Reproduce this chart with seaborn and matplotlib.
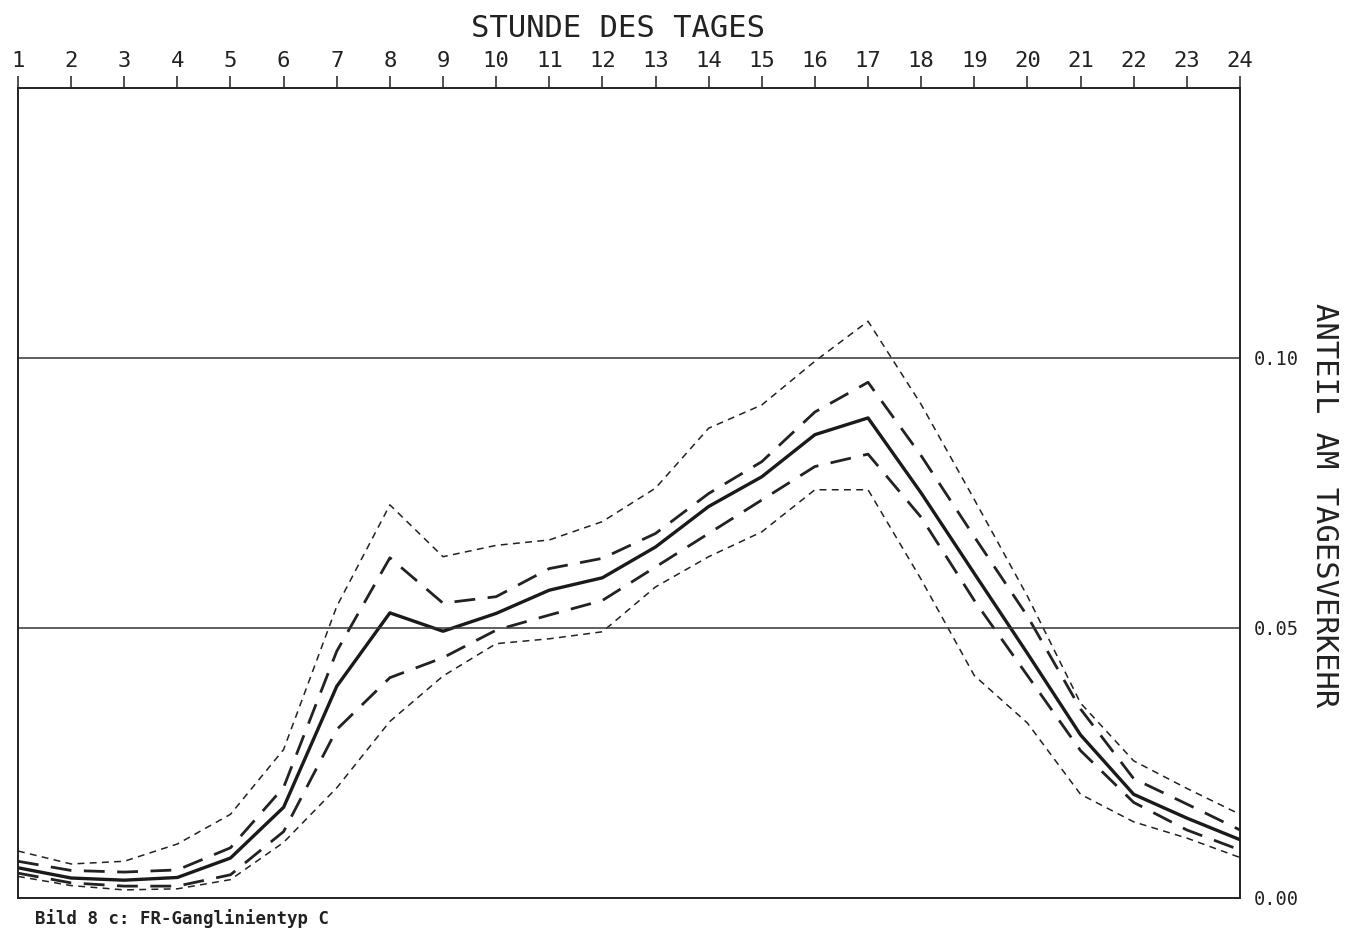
import matplotlib
matplotlib.use('Agg')
import matplotlib.pyplot as plt
import pandas as pd
import seaborn as sns

# hour of day 1..24
hours = list(range(1, 25))

# mean profile (solid)
mean_line = [0.0056, 0.0037, 0.0033, 0.0038, 0.0074, 0.0168, 0.0392, 0.0528,
             0.0494, 0.0527, 0.0570, 0.0593, 0.0650, 0.0725, 0.0780, 0.0858,
             0.0889, 0.0750, 0.0601, 0.0453, 0.0302, 0.0192, 0.0148, 0.0108]
# inner band (long dashes)
upper_inner = [0.0068, 0.0051, 0.0048, 0.0052, 0.0093, 0.0205, 0.0457, 0.0630,
               0.0546, 0.0558, 0.0610, 0.0629, 0.0675, 0.0749, 0.0808, 0.0900,
               0.0955, 0.0819, 0.0669, 0.0522, 0.0350, 0.0221, 0.0174, 0.0126]
lower_inner = [0.0046, 0.0028, 0.0022, 0.0022, 0.0043, 0.0123, 0.0312, 0.0408,
               0.0445, 0.0496, 0.0524, 0.0551, 0.0613, 0.0675, 0.0737, 0.0799,
               0.0822, 0.0705, 0.0551, 0.0412, 0.0273, 0.0177, 0.0126, 0.0089]
# outer band (short dashes)
upper_outer = [0.0087, 0.0063, 0.0068, 0.0100, 0.0155, 0.0275, 0.0540, 0.0728,
               0.0632, 0.0653, 0.0663, 0.0697, 0.0759, 0.0870, 0.0913, 0.0994,
               0.1068, 0.0914, 0.0738, 0.0559, 0.0361, 0.0254, 0.0203, 0.0155]
lower_outer = [0.0040, 0.0023, 0.0015, 0.0017, 0.0034, 0.0103, 0.0204, 0.0327,
               0.0411, 0.0471, 0.0480, 0.0493, 0.0576, 0.0632, 0.0678, 0.0756,
               0.0756, 0.0590, 0.0412, 0.0324, 0.0192, 0.0141, 0.0111, 0.0075]

y_ticks = [0.00, 0.05, 0.10]
y_ticklabels = ['0.00', '0.05', '0.10']

df = pd.DataFrame({'hour': hours, 'mean': mean_line,
                   'upper_inner': upper_inner, 'lower_inner': lower_inner,
                   'upper_outer': upper_outer, 'lower_outer': lower_outer})

sns.set_style('white')
plt.rcParams['font.family'] = ['DejaVu Sans Mono', 'DejaVu Sans']

fig = plt.figure(figsize=(13.52, 9.36), dpi=100)
ax = fig.add_axes([0.0133, 0.0406, 0.9038, 0.8654])

for col in ['upper_outer', 'lower_outer']:
    sns.lineplot(data=df, x='hour', y=col, ax=ax, color='#222222', lw=1.1,
                 linestyle=(0, (4.5, 3.5)))
for col in ['upper_inner', 'lower_inner']:
    sns.lineplot(data=df, x='hour', y=col, ax=ax, color='#222222', lw=2.0,
                 linestyle=(0, (7.5, 4.5)))
sns.lineplot(data=df, x='hour', y='mean', ax=ax, color='#1a1a1a', lw=2.4)

for v in y_ticks[1:]:
    ax.axhline(v, color='#333333', lw=1.1)

ax.set_xlim(1, 24)
ax.set_ylim(0, 0.15)

ax.xaxis.tick_top()
ax.set_xticks(hours)
ax.set_xticklabels([str(h) for h in hours], fontsize=16)
ax.tick_params(axis='x', direction='out', length=9, width=1.1, pad=3,
               colors='#222222')

ax.yaxis.tick_right()
ax.set_yticks(y_ticks)
ax.set_yticklabels(y_ticklabels, fontsize=13.5)
ax.tick_params(axis='y', length=0, pad=10, colors='#222222')

ax.set_xlabel('')
ax.set_ylabel('')

for s in ax.spines.values():
    s.set_visible(True)
    s.set_color('#222222')
    s.set_linewidth(1.4)

fig.text(0.457, 0.97, 'STUNDE DES TAGES', fontsize=22, ha='center', va='center',
         color='#222222')
fig.text(0.980, 0.46, 'ANTEIL AM TAGESVERKEHR', fontsize=22, rotation=-90,
         ha='center', va='center', color='#222222')
fig.text(0.026, 0.019, 'Bild 8 c: FR-Ganglinientyp C', fontsize=12.5,
         fontweight='bold', ha='left', va='center', color='#222222')

fig.savefig('out.png', dpi=100)
